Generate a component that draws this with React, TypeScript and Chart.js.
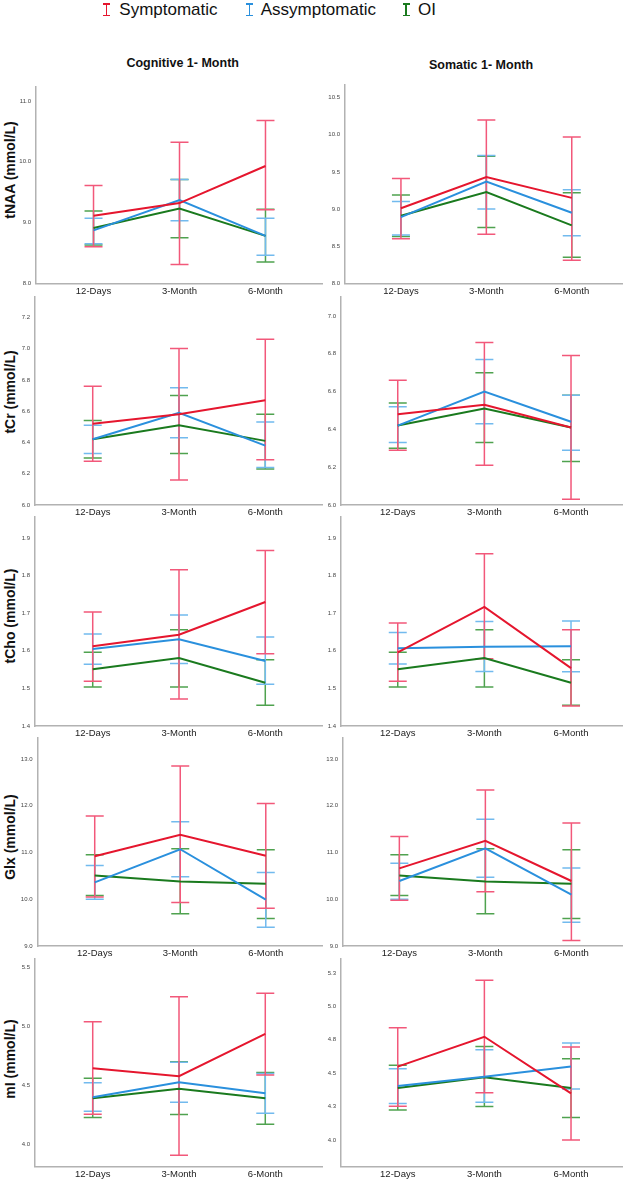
import React, { useEffect, useRef } from "react";
import { Chart, registerables } from "chart.js";
Chart.register(...registerables);

// ---------- categories / labels ----------
const timepoints = ["12-Days", "3-Month", "6-Month"];
const groups = ["Symptomatic", "Assymptomatic", "OI"];
const columnTitles = ["Cognitive 1- Month", "Somatic 1- Month"];
const metricLabels = ["tNAA (mmol/L)", "tCr (mmol/L)", "tCho (mmol/L)", "Glx (mmol/L)", "mI (mmol/L)"];

// ---------- tick values ----------
const tNAA_cog_ticks = [8.0, 9.0, 10.0, 11.0];
const tNAA_som_ticks = [8.0, 8.5, 9.0, 9.5, 10.0, 10.5];
const tCr_cog_ticks = [6.0, 6.2, 6.4, 6.6, 6.8, 7.0, 7.2];
const tCr_som_ticks = [6.0, 6.2, 6.4, 6.6, 6.8, 7.0];
const tCho_ticks = [1.4, 1.5, 1.6, 1.7, 1.8, 1.9];
const Glx_ticks = [9.0, 10.0, 11.0, 12.0, 13.0];
const mI_cog_ticks = [4.0, 4.5, 5.0, 5.5];
const mI_som_ticks = [4.0, 4.25, 4.5, 4.75, 5.0, 5.25];

// ---------- axis ranges ----------
const tNAA_cog_range = [8.0, 11.23];
const tNAA_som_range = [8.0, 10.67];
const tCr_cog_range = [6.0, 7.33];
const tCr_som_range = [6.0, 7.1];
const tCho_range = [1.4, 1.956];
const Glx_range = [9.0, 13.45];
const mI_cog_range = [3.806, 5.575];
const mI_som_range = [3.8, 5.355];

// ---------- values: rows = [Symptomatic, Assymptomatic, OI], cols = timepoints ----------
const tNAA_cog_mean = [[9.11, 9.32, 9.93], [8.87, 9.37, 8.78], [8.91, 9.23, 8.78]];
const tNAA_cog_low = [[8.6, 8.31, 9.21], [8.65, 9.03, 8.46], [8.63, 8.75, 8.35]];
const tNAA_cog_high = [[9.61, 10.32, 10.68], [9.07, 9.71, 9.07], [9.19, 9.71, 9.22]];
const tNAA_som_mean = [[9.01, 9.43, 9.15], [8.89, 9.37, 8.95], [8.91, 9.23, 8.78]];
const tNAA_som_low = [[8.6, 8.66, 8.31], [8.65, 9.0, 8.64], [8.63, 8.75, 8.35]];
const tNAA_som_high = [[9.41, 10.2, 9.97], [9.1, 9.72, 9.26], [9.19, 9.71, 9.22]];

const tCr_cog_mean = [[6.52, 6.58, 6.67], [6.42, 6.59, 6.38], [6.42, 6.51, 6.41]];
const tCr_cog_low = [[6.28, 6.16, 6.29], [6.33, 6.43, 6.24], [6.3, 6.33, 6.23]];
const tCr_cog_high = [[6.76, 7.0, 7.06], [6.51, 6.75, 6.53], [6.54, 6.7, 6.58]];
const tCr_som_mean = [[6.48, 6.53, 6.41], [6.42, 6.6, 6.44], [6.42, 6.51, 6.41]];
const tCr_som_low = [[6.29, 6.21, 6.03], [6.33, 6.43, 6.29], [6.3, 6.33, 6.23]];
const tCr_som_high = [[6.66, 6.86, 6.79], [6.52, 6.77, 6.58], [6.54, 6.7, 6.58]];

const tCho_cog_mean = [[1.612, 1.643, 1.73], [1.605, 1.631, 1.573], [1.551, 1.581, 1.515]];
const tCho_cog_low = [[1.519, 1.472, 1.592], [1.564, 1.566, 1.511], [1.504, 1.504, 1.455]];
const tCho_cog_high = [[1.703, 1.816, 1.867], [1.645, 1.695, 1.637], [1.596, 1.656, 1.576]];
const tCho_som_mean = [[1.596, 1.717, 1.554], [1.607, 1.611, 1.612], [1.551, 1.581, 1.515]];
const tCho_som_low = [[1.519, 1.579, 1.453], [1.565, 1.545, 1.544], [1.504, 1.504, 1.455]];
const tCho_som_high = [[1.674, 1.858, 1.656], [1.649, 1.678, 1.679], [1.596, 1.656, 1.576]];

const Glx_cog_mean = [[10.92, 11.38, 10.93], [10.36, 11.07, 9.99], [10.51, 10.38, 10.33]];
const Glx_cog_low = [[10.05, 9.93, 9.81], [10.0, 10.48, 9.4], [10.08, 9.69, 9.59]];
const Glx_cog_high = [[11.78, 12.85, 12.05], [10.72, 11.66, 10.57], [10.95, 11.08, 11.06]];
const Glx_som_mean = [[10.66, 11.25, 10.39], [10.39, 11.09, 10.1], [10.51, 10.38, 10.33]];
const Glx_som_low = [[9.98, 10.16, 9.12], [10.0, 10.47, 9.51], [10.08, 9.69, 9.59]];
const Glx_som_high = [[11.34, 12.34, 11.63], [10.77, 11.71, 10.67], [10.95, 11.08, 11.06]];

const mI_cog_mean = [[4.645, 4.577, 4.938], [4.398, 4.526, 4.432], [4.39, 4.47, 4.389]];
const mI_cog_low = [[4.253, 3.903, 4.588], [4.278, 4.355, 4.261], [4.224, 4.25, 4.168]];
const mI_cog_high = [[5.04, 5.253, 5.284], [4.52, 4.696, 4.6], [4.56, 4.7, 4.608]];
const mI_som_mean = [[4.549, 4.773, 4.349], [4.404, 4.474, 4.551], [4.39, 4.47, 4.389]];
const mI_som_low = [[4.252, 4.354, 4.0], [4.274, 4.282, 4.382], [4.224, 4.25, 4.168]];
const mI_som_high = [[4.84, 5.195, 4.696], [4.534, 4.676, 4.726], [4.56, 4.7, 4.608]];

// ---------- styles ----------
const lineColors = ["#e5162e", "#2a90dd", "#1a7a1e"];
const barColors = ["#f2587a", "#72baee", "#4fa24f"];
const axisColor = "#b2b2b2";
const FONT = "'Liberation Sans', Arial, Helvetica, sans-serif";

// ---------- layout geometry ----------
const rowTops = [[87, 85], [297, 297], [517, 517], [738, 738], [959, 959]];
const rowBottoms = [283.3, 505, 726, 946, 1166.7];
const axisXs = [[36, 345], [35, 341], [35, 341], [37.5, 343], [35, 341]];
const colCanvasLeft = [0, 300];
const colRight = [323, 623];
const colXRange = [[-0.669, 2.669], [-0.655, 2.6]];
const yTitleCenters = [170, 392, 616, 837, 1059];

const panelData = [
  [
    { ticks: tNAA_cog_ticks, range: tNAA_cog_range, mean: tNAA_cog_mean, low: tNAA_cog_low, high: tNAA_cog_high },
    { ticks: tNAA_som_ticks, range: tNAA_som_range, mean: tNAA_som_mean, low: tNAA_som_low, high: tNAA_som_high },
  ],
  [
    { ticks: tCr_cog_ticks, range: tCr_cog_range, mean: tCr_cog_mean, low: tCr_cog_low, high: tCr_cog_high },
    { ticks: tCr_som_ticks, range: tCr_som_range, mean: tCr_som_mean, low: tCr_som_low, high: tCr_som_high },
  ],
  [
    { ticks: tCho_ticks, range: tCho_range, mean: tCho_cog_mean, low: tCho_cog_low, high: tCho_cog_high },
    { ticks: tCho_ticks, range: tCho_range, mean: tCho_som_mean, low: tCho_som_low, high: tCho_som_high },
  ],
  [
    { ticks: Glx_ticks, range: Glx_range, mean: Glx_cog_mean, low: Glx_cog_low, high: Glx_cog_high },
    { ticks: Glx_ticks, range: Glx_range, mean: Glx_som_mean, low: Glx_som_low, high: Glx_som_high },
  ],
  [
    { ticks: mI_cog_ticks, range: mI_cog_range, mean: mI_cog_mean, low: mI_cog_low, high: mI_cog_high },
    { ticks: mI_som_ticks, range: mI_som_range, mean: mI_som_mean, low: mI_som_low, high: mI_som_high },
  ],
];

const fmt1 = (v: number) => (Math.round(v * 10 + 1e-9) / 10).toFixed(1);

const errorBarPlugin = {
  id: "errorBars",
  beforeDatasetsDraw(chart: any, _args: any, opts: any) {
    const { ctx } = chart;
    const xs = chart.scales.x;
    const ys = chart.scales.y;
    const low = opts.low as number[][];
    const high = opts.high as number[][];
    for (let s = low.length - 1; s >= 0; s--) {
      ctx.save();
      ctx.strokeStyle = barColors[s];
      ctx.lineWidth = 1.5;
      for (let j = 0; j < low[s].length; j++) {
        const x = xs.getPixelForValue(j);
        const y1 = ys.getPixelForValue(low[s][j]);
        const y2 = ys.getPixelForValue(high[s][j]);
        ctx.beginPath();
        ctx.moveTo(x, y1);
        ctx.lineTo(x, y2);
        ctx.moveTo(x - 9, y1);
        ctx.lineTo(x + 9, y1);
        ctx.moveTo(x - 9, y2);
        ctx.lineTo(x + 9, y2);
        ctx.stroke();
      }
      ctx.restore();
    }
  },
};

function Panel({ row, col }: { row: number; col: number }) {
  const ref = useRef<HTMLCanvasElement>(null);
  const d = panelData[row][col];
  const top = rowTops[row][col];
  const bottom = rowBottoms[row];
  const canvasTop = Math.round(top) - 10;
  const canvasLeft = colCanvasLeft[col];
  const w = colRight[col] - canvasLeft;
  const h = Math.round(bottom + 20 - canvasTop);
  const yAxisW = axisXs[row][col] - canvasLeft;
  const xAxisH = h - (bottom - canvasTop);
  const xr = colXRange[col];

  useEffect(() => {
    if (!ref.current) return;
    const chart = new Chart(ref.current, {
      type: "line",
      data: {
        datasets: groups.map((g, s) => ({
          label: g,
          data: d.mean[s].map((v, j) => ({ x: j, y: v })),
          borderColor: lineColors[s],
          backgroundColor: lineColors[s],
          borderWidth: 2,
          pointRadius: 0,
          tension: 0,
          fill: false,
          order: s,
        })),
      },
      options: {
        responsive: false,
        animation: false,
        layout: { padding: { top: 10, right: 0, bottom: 0, left: 0 } },
        plugins: {
          legend: { display: false },
          tooltip: { enabled: false },
          errorBars: { low: d.low, high: d.high },
        } as any,
        scales: {
          x: {
            type: "linear",
            min: xr[0],
            max: xr[1],
            bounds: "data",
            grid: { display: false, drawTicks: false, tickLength: 0 },
            border: { display: true, color: axisColor, width: 1.5 },
            afterBuildTicks: (s: any) => {
              s.ticks = timepoints.map((_, i) => ({ value: i }));
            },
            afterFit: (s: any) => {
              s.height = xAxisH;
            },
            ticks: {
              autoSkip: false,
              maxRotation: 0,
              padding: 2,
              color: "#222",
              font: { family: FONT, size: 9.5 },
              callback: (v: any) => timepoints[Math.round(Number(v))],
            },
          },
          y: {
            type: "linear",
            min: d.range[0],
            max: d.range[1],
            bounds: "data",
            grid: { display: false, drawTicks: false, tickLength: 0 },
            border: { display: true, color: axisColor, width: 1.5 },
            afterBuildTicks: (s: any) => {
              s.ticks = d.ticks.map((v) => ({ value: v }));
            },
            afterFit: (s: any) => {
              s.width = yAxisW;
            },
            ticks: {
              padding: 5,
              color: "#444",
              font: { family: FONT, size: 6 },
              callback: (v: any) => fmt1(Number(v)),
            },
          },
        },
      } as any,
      plugins: [errorBarPlugin as any],
    });
    return () => chart.destroy();
  }, []);

  return (
    <canvas
      ref={ref}
      width={w}
      height={h}
      style={{ position: "absolute", left: canvasLeft, top: canvasTop, width: w, height: h }}
    />
  );
}

function LegendIcon({ color }: { color: string }) {
  return (
    <div style={{ position: "relative", width: 7, height: 13 }}>
      <div style={{ position: "absolute", left: 0, top: 0, width: 7, height: 1.5, background: color }} />
      <div style={{ position: "absolute", left: 2.75, top: 0, width: 1.5, height: 13, background: color }} />
      <div style={{ position: "absolute", left: 0, top: 11.5, width: 7, height: 1.5, background: color }} />
    </div>
  );
}

const legendIconX = [106.7, 249.3, 406];
const legendTextX = [119.3, 260.7, 418];

export default function App() {
  return (
    <div
      style={{
        position: "absolute",
        left: 0,
        top: 0,
        width: 631,
        height: 1181,
        background: "#fff",
        fontFamily: FONT,
        overflow: "hidden",
      }}
    >
      {groups.map((g, i) => (
        <React.Fragment key={g}>
          <div style={{ position: "absolute", left: legendIconX[i] - 3.5, top: 3 }}>
            <LegendIcon color={lineColors[i]} />
          </div>
          <div
            style={{
              position: "absolute",
              left: legendTextX[i],
              top: 0,
              fontSize: 17,
              lineHeight: "20px",
              color: "#111",
              whiteSpace: "nowrap",
            }}
          >
            {g}
          </div>
        </React.Fragment>
      ))}
      {columnTitles.map((t, c) => (
        <div
          key={t}
          style={{
            position: "absolute",
            left: c === 0 ? 182.7 : 481,
            top: c === 0 ? 63 : 65,
            transform: "translate(-50%, -50%)",
            fontSize: 12.5,
            fontWeight: "bold",
            color: "#111",
            whiteSpace: "nowrap",
          }}
        >
          {t}
        </div>
      ))}
      {metricLabels.map((t, r) => (
        <div
          key={t}
          style={{
            position: "absolute",
            left: 10,
            top: yTitleCenters[r],
            transform: "translate(-50%, -50%) rotate(-90deg)",
            fontSize: 14,
            fontWeight: "bold",
            color: "#111",
            whiteSpace: "nowrap",
          }}
        >
          {t}
        </div>
      ))}
      {panelData.map((rowPanels, r) =>
        rowPanels.map((_, c) => <Panel key={`${r}-${c}`} row={r} col={c} />)
      )}
    </div>
  );
}
